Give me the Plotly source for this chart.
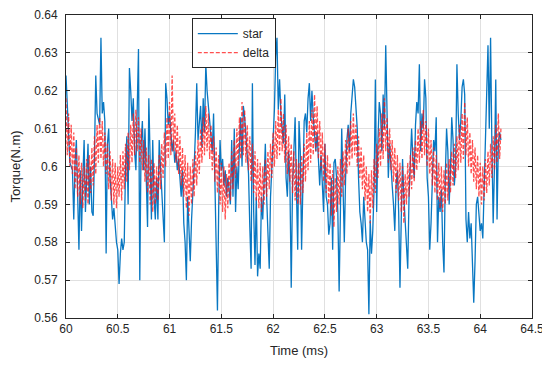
import numpy as np
import plotly.graph_objects as go

# time span of the recorded data (ms)
t_start, t_end = 60.0, 64.2

star = [
    0.624, 0.616, 0.606, 0.601, 0.600, 0.599, 0.586, 0.601, 0.607, 0.588,
    0.578, 0.599, 0.583, 0.597, 0.607, 0.588, 0.599, 0.606, 0.590, 0.600,
    0.588, 0.587, 0.603, 0.624, 0.614, 0.612, 0.611, 0.634, 0.614, 0.617,
    0.612, 0.577, 0.606, 0.610, 0.597, 0.592, 0.586, 0.589, 0.584, 0.580,
    0.578, 0.569, 0.577, 0.581, 0.578, 0.580, 0.600, 0.608, 0.590, 0.626,
    0.620, 0.612, 0.618, 0.604,
    0.599, 0.614, 0.631, 0.570, 0.606, 0.612, 0.599, 0.610, 0.594, 0.584,
    0.618, 0.597, 0.586, 0.607, 0.592, 0.586, 0.597, 0.586, 0.607, 0.600,
    0.592, 0.587, 0.580, 0.622, 0.618, 0.611, 0.614, 0.609, 0.604, 0.607,
    0.601, 0.604, 0.599, 0.602, 0.597, 0.592, 0.599, 0.585, 0.580, 0.570,
    0.592, 0.583, 0.575, 0.586, 0.592, 0.600, 0.609, 0.622, 0.607, 0.613,
    0.616, 0.605, 0.618, 0.609, 0.627, 0.620, 0.615, 0.612,
    0.608, 0.604, 0.614, 0.595, 0.586, 0.562, 0.590, 0.607, 0.599, 0.602,
    0.595, 0.599, 0.592, 0.597, 0.594, 0.590, 0.607, 0.592, 0.610, 0.588,
    0.600, 0.594, 0.606, 0.613, 0.600, 0.616, 0.613, 0.607, 0.603, 0.598,
    0.584, 0.573, 0.622, 0.588, 0.574, 0.592, 0.571, 0.577, 0.573, 0.592,
    0.586, 0.599, 0.606, 0.592, 0.581, 0.573, 0.592, 0.600, 0.609, 0.615,
    0.629, 0.634, 0.615, 0.623, 0.614, 0.609, 0.606, 0.619,
    0.597, 0.592, 0.604, 0.595, 0.568, 0.595, 0.606, 0.613, 0.594, 0.578,
    0.612, 0.604, 0.578, 0.599, 0.612, 0.614, 0.609, 0.618, 0.622, 0.612,
    0.620, 0.613, 0.607, 0.604, 0.609, 0.601, 0.595, 0.603, 0.594, 0.588,
    0.606, 0.592, 0.590, 0.582, 0.585, 0.597, 0.578, 0.601, 0.602, 0.597,
    0.588, 0.567, 0.588, 0.610, 0.595, 0.580, 0.597, 0.607, 0.611, 0.604,
    0.614, 0.618, 0.623, 0.621, 0.616, 0.610, 0.597,
    0.588, 0.585, 0.580, 0.592, 0.585, 0.580, 0.578, 0.561, 0.586, 0.577,
    0.583, 0.594, 0.623, 0.588, 0.607, 0.617, 0.614, 0.604, 0.619, 0.610,
    0.632, 0.610, 0.597, 0.606, 0.599, 0.595, 0.590, 0.583, 0.595, 0.599,
    0.588, 0.568, 0.586, 0.602, 0.592, 0.585, 0.578, 0.573, 0.592, 0.599,
    0.610, 0.602, 0.597, 0.611, 0.617, 0.614, 0.627, 0.604, 0.614, 0.610,
    0.623, 0.618, 0.597, 0.592, 0.578, 0.585, 0.599, 0.607,
    0.604, 0.613, 0.580, 0.592, 0.588, 0.594, 0.580, 0.572, 0.597, 0.610,
    0.604, 0.590, 0.599, 0.613, 0.607, 0.595, 0.600, 0.627, 0.614, 0.607,
    0.612, 0.621, 0.623, 0.619, 0.586, 0.580, 0.588, 0.581, 0.585, 0.576,
    0.564, 0.575, 0.590, 0.592, 0.586, 0.583, 0.585, 0.581, 0.594, 0.607,
    0.623, 0.632, 0.610, 0.634, 0.606, 0.585, 0.600, 0.623, 0.586, 0.606,
    0.609, 0.607,
]

delta = [
    0.618, 0.603, 0.614, 0.600, 0.611, 0.598, 0.609, 0.594, 0.605, 0.592, 0.603, 0.590, 0.601, 0.589, 0.600,
    0.591, 0.602, 0.590, 0.603, 0.593, 0.605, 0.595, 0.608, 0.598, 0.611, 0.601, 0.613, 0.602,
    0.612, 0.600, 0.609, 0.598, 0.606, 0.594, 0.604, 0.591, 0.602, 0.590, 0.601, 0.589, 0.600,
    0.592, 0.603, 0.591, 0.604, 0.594, 0.606, 0.596, 0.609, 0.599, 0.611, 0.601, 0.614, 0.603, 0.615, 0.604,
    0.613, 0.601, 0.610, 0.599, 0.607, 0.596, 0.605, 0.593, 0.603, 0.590, 0.602, 0.588, 0.601, 0.590,
    0.600, 0.591, 0.603, 0.594, 0.606, 0.597, 0.609, 0.600, 0.613, 0.602, 0.617, 0.603, 0.624, 0.604,
    0.614, 0.601, 0.611, 0.598, 0.608, 0.595, 0.605, 0.592, 0.603, 0.589, 0.601, 0.587, 0.600,
    0.590, 0.602, 0.592, 0.604, 0.595, 0.607, 0.598, 0.610, 0.601, 0.613, 0.603, 0.616, 0.604, 0.614,
    0.602, 0.611, 0.599, 0.608, 0.596, 0.605, 0.593, 0.603, 0.590, 0.601, 0.588, 0.600, 0.586, 0.598,
    0.589, 0.601, 0.591, 0.604, 0.594, 0.607, 0.597, 0.610, 0.600, 0.613, 0.602, 0.617, 0.603, 0.615,
    0.601, 0.611, 0.599, 0.608, 0.596, 0.606, 0.593, 0.604, 0.591, 0.602, 0.589, 0.601, 0.588, 0.600,
    0.590, 0.602, 0.592, 0.604, 0.594, 0.606, 0.597, 0.609, 0.600, 0.612, 0.602, 0.615, 0.603, 0.618, 0.604,
    0.614, 0.601, 0.611, 0.598, 0.608, 0.596, 0.606, 0.593, 0.604, 0.591, 0.602, 0.590, 0.601,
    0.590, 0.603, 0.593, 0.606, 0.596, 0.609, 0.599, 0.612, 0.601, 0.615, 0.603, 0.619, 0.604, 0.616,
    0.602, 0.612, 0.599, 0.609, 0.596, 0.606, 0.593, 0.603, 0.590, 0.601, 0.587, 0.599, 0.584, 0.597,
    0.588, 0.600, 0.590, 0.602, 0.592, 0.604, 0.595, 0.607, 0.598, 0.610, 0.600, 0.612, 0.602, 0.614, 0.603,
    0.611, 0.600, 0.608, 0.597, 0.605, 0.594, 0.603, 0.591, 0.600, 0.588, 0.598, 0.585,
    0.599, 0.589, 0.602, 0.593, 0.606, 0.597, 0.610, 0.600, 0.614, 0.602, 0.618, 0.604,
    0.613, 0.601, 0.610, 0.599, 0.607, 0.596, 0.605, 0.593, 0.603, 0.591, 0.601, 0.588, 0.600, 0.585, 0.598,
    0.590, 0.601, 0.592, 0.603, 0.594, 0.605, 0.596, 0.607, 0.599, 0.610, 0.601, 0.612, 0.602, 0.615, 0.603, 0.612,
    0.600, 0.610, 0.598, 0.607, 0.595, 0.605, 0.593, 0.603, 0.591, 0.601, 0.589, 0.600, 0.588, 0.599,
    0.590, 0.601, 0.591, 0.602, 0.593, 0.604, 0.595, 0.606, 0.597, 0.608, 0.599, 0.611, 0.601, 0.614, 0.602, 0.617, 0.603, 0.613,
    0.600, 0.609, 0.598, 0.607, 0.596, 0.605, 0.594, 0.603, 0.592, 0.601, 0.590, 0.600,
    0.591, 0.602, 0.593, 0.604, 0.595, 0.606, 0.597, 0.608, 0.599, 0.611, 0.601, 0.614, 0.602, 0.610,
]

x_ticks = [60, 60.5, 61, 61.5, 62, 62.5, 63, 63.5, 64, 64.5]
y_ticks = [0.56, 0.57, 0.58, 0.59, 0.60, 0.61, 0.62, 0.63, 0.64]

t_star = np.linspace(t_start, t_end, len(star))
t_delta = np.linspace(t_start, t_end, len(delta))

FONT = "Liberation Sans, Arial, sans-serif"

fig = go.Figure()
fig.add_trace(go.Scatter(x=t_star, y=star, mode="lines", name="star",
                         line=dict(color="#0877C2", width=1.3)))
fig.add_trace(go.Scatter(x=t_delta, y=delta, mode="lines", name="delta",
                         line=dict(color="rgba(255,20,20,0.75)", width=1.3, dash="4px,2px")))

axis_common = dict(showgrid=True, gridcolor="#e0e0e0", gridwidth=1,
                   showline=True, linecolor="#262626", linewidth=1, mirror="ticks",
                   ticks="inside", ticklen=4, tickcolor="#262626",
                   tickfont=dict(family=FONT, size=12, color="#262626"),
                   zeroline=False, automargin=False, ticklabeloverflow="allow")

fig.update_xaxes(range=[60, 64.5], tickvals=x_ticks,
                 ticktext=[f"{v:g}" for v in x_ticks],
                 title=dict(text="Time (ms)", font=dict(family=FONT, size=13, color="#262626"), standoff=10),
                 **axis_common)
fig.update_yaxes(range=[0.56, 0.64], tickvals=y_ticks,
                 ticktext=[f"{v:g}" for v in y_ticks],
                 ticklabelstandoff=5,
                 title=dict(text="Torque(N.m)", font=dict(family=FONT, size=13, color="#262626"), standoff=19),
                 **axis_common)

# the page adds an 8px body margin; the figure is offset by it inside the window
fig.update_layout(
    width=542, height=359,
    margin=dict(l=58, r=18, t=7, b=49),
    paper_bgcolor="white", plot_bgcolor="white",
    showlegend=True,
    legend=dict(x=0.27, y=0.99, xanchor="left", yanchor="top",
                bgcolor="white", bordercolor="#262626", borderwidth=1,
                font=dict(family=FONT, size=12, color="#262626"),
                itemwidth=40, tracegroupgap=0),
)

fig.write_html("out.html")
